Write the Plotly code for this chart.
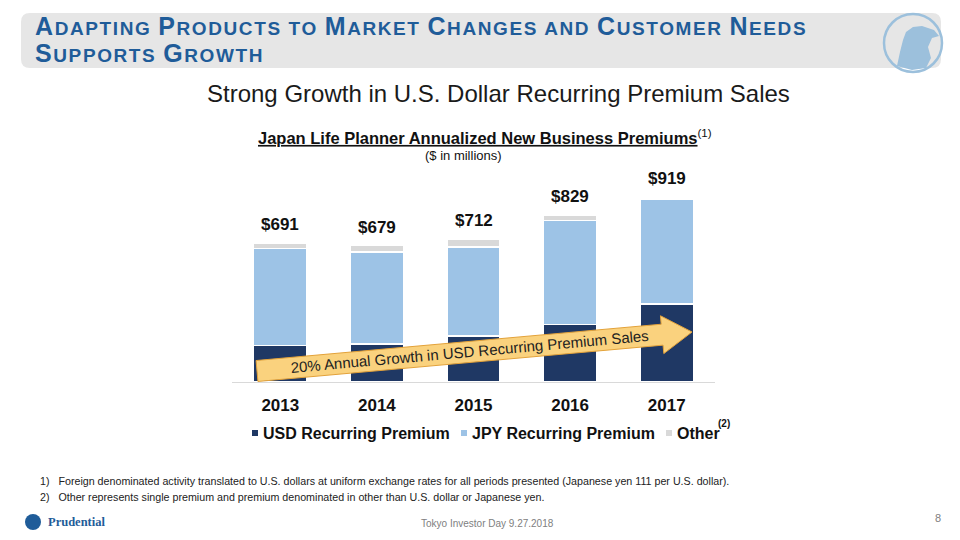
import math
import plotly.graph_objects as go

# data ($ in millions)
years = [2013, 2014, 2015, 2016, 2017]
usd_recurring = [181, 188, 230, 285, 388]
jpy_recurring = [483, 458, 441, 518, 522]
other = [27, 33, 41, 26, 9]
totals = [691, 679, 712, 829, 919]
series_names = ["USD Recurring Premium", "JPY Recurring Premium", "Other"]

W, H = 960, 540
FONT = "Liberation Sans, Arial, sans-serif"
NAVY = "#1F3864"
LIGHT = "#9DC3E6"
GREY = "#D9D9D9"
TITLE_BLUE = "#1F5C99"
LOGO_BLUE = "#9CC0DC"
colors = [NAVY, LIGHT, GREY]


def px(x):
    return x / W


def py(y):
    return 1 - y / H


def path_from_pixels(points, close=True):
    s = "M " + " L ".join(f"{px(x):.5f},{py(y):.5f}" for x, y in points)
    return s + (" Z" if close else "")


def rounded_rect(x0, y0, x1, y1, r):
    def p(x, y):
        return f"{px(x):.5f},{py(y):.5f}"
    return (f"M {p(x0 + r, y0)} L {p(x1 - r, y0)} Q {p(x1, y0)} {p(x1, y0 + r)} "
            f"L {p(x1, y1 - r)} Q {p(x1, y1)} {p(x1 - r, y1)} "
            f"L {p(x0 + r, y1)} Q {p(x0, y1)} {p(x0, y1 - r)} "
            f"L {p(x0, y0 + r)} Q {p(x0, y0)} {p(x0 + r, y0)} Z")


def small_caps(text, spacing=0):
    # capital letters stay big, lower case letters become small capitals
    ls = f"letter-spacing:{spacing}px;" if spacing else ""
    out, run, run_small = [], "", None
    for ch in text:
        small = ch.islower()
        if ch == " ":
            small = run_small
        if run and small != run_small:
            size = "font-size:19px;" if run_small else ""
            out.append(f"<span style='{size}{ls}'>{run.upper()}</span>")
            run = ""
        run += ch
        run_small = small
    size = "font-size:19px;" if run_small else ""
    out.append(f"<span style='{size}{ls}'>{run.upper()}</span>")
    return "".join(out)


fig = go.Figure()
for name, vals, col in zip(series_names, [usd_recurring, jpy_recurring, other], colors):
    fig.add_trace(go.Bar(x=years, y=vals, name=name,
                         marker=dict(color=col, line=dict(color="white", width=1.5))))

annotations = []
for yr, t in zip(years, totals):
    annotations.append(dict(x=yr, y=t, xref="x", yref="y", text=f"<b>${t}</b>",
                            showarrow=False, yanchor="bottom", yshift=7,
                            font=dict(size=17, color="#111", family=FONT)))

# header band, logo and texts
shapes = [
    dict(type="path", xref="paper", yref="paper", path=rounded_rect(21, 13, 941, 68, 9),
         fillcolor="#E6E6E6", line=dict(width=0), layer="below"),
    dict(type="circle", xref="paper", yref="paper", x0=px(884), x1=px(942), y0=py(72), y1=py(14),
         line=dict(color=LOGO_BLUE, width=2.5)),
    dict(type="path", xref="paper", yref="paper",
         path=path_from_pixels([(897, 66), (900, 52), (903, 40), (906, 32), (913, 27), (922, 26),
                                (934, 30), (939, 36), (932, 38), (928, 47), (931, 58), (926, 68),
                                (912, 70)]),
         fillcolor=LOGO_BLUE, line=dict(width=0)),
    dict(type="circle", xref="paper", yref="paper", x0=px(25), x1=px(41), y0=py(530), y1=py(514),
         fillcolor=TITLE_BLUE, line=dict(width=0)),
]

# legend drawn by hand to match the slide's small square keys
legend_x = [252, 461, 666]
for lx, name, col in zip(legend_x, series_names, colors):
    shapes.append(dict(type="rect", xref="paper", yref="paper", x0=px(lx), x1=px(lx + 6),
                       y0=py(436), y1=py(430), fillcolor=col, line=dict(width=0)))
    annotations.append(dict(x=px(lx + 9), y=py(433), xref="paper", yref="paper",
                            text=f"<b>{name}</b>", showarrow=False, xanchor="left",
                            yanchor="middle", font=dict(size=16, color="#111", family=FONT)))

# growth arrow
sx, sy = 257, 371
ex, ey = 692, 332
ang = math.atan2(sy - ey, ex - sx)
L = math.hypot(ex - sx, ey - sy)
ux, uy = math.cos(ang), -math.sin(ang)
nx, ny = math.sin(ang), math.cos(ang)
w, hw, hl = 10.5, 19, 30
frame = [(0, -w), (L - hl, -w), (L - hl, -hw), (L, 0), (L - hl, hw), (L - hl, w), (0, w)]
arrow_pts = [(sx + t * ux + o * nx, sy + t * uy + o * ny) for t, o in frame]
shapes.append(dict(type="path", xref="paper", yref="paper", path=path_from_pixels(arrow_pts),
                   fillcolor="#FAD27E", line=dict(color="#E3A23A", width=1)))
mid_t = 213
annotations.append(dict(x=px(sx + mid_t * ux), y=py(sy + mid_t * uy), xref="paper", yref="paper",
                        text="20% Annual Growth in USD Recurring Premium Sales",
                        textangle=-math.degrees(ang), showarrow=False,
                        font=dict(size=15, color="#222", family=FONT)))

title_l1 = small_caps("Adapting Products to Market Changes and Customer Needs", spacing=1.6)
title_l2 = small_caps("Supports Growth", spacing=1.6)
for yy, t in [(26, title_l1), (53, title_l2)]:
    annotations.append(dict(x=px(33), y=py(yy), xref="paper", yref="paper", text=f"<b>{t}</b>",
                            showarrow=False, xanchor="left", yanchor="middle",
                            font=dict(size=25, color=TITLE_BLUE, family=FONT)))

texts = [
    (498, 93, "Strong Growth in U.S. Dollar Recurring Premium Sales", 24, "#1a1a1a", "center"),
    (485, 137, "<b><u>Japan Life Planner Annualized New Business Premiums</u></b><sup>(1)</sup>",
     16.5, "#111", "center"),
    (463, 156, "($ in millions)", 13, "#111", "center"),
    (724, 423, "<b>(2)</b>", 10, "#111", "center"),
    (38, 481, "1)   Foreign denominated activity translated to U.S. dollars at uniform exchange rates "
              "for all periods presented (Japanese yen 111 per U.S. dollar).", 10.7, "#222", "left"),
    (38, 497, "2)   Other represents single premium and premium denominated in other than "
              "U.S. dollar or Japanese yen.", 10.7, "#222", "left"),
    (487, 523, "Tokyo Investor Day 9.27.2018", 10, "#808080", "center"),
    (938, 518, "8", 11, "#808080", "center"),
]
for x, y, t, s, c, anchor in texts:
    annotations.append(dict(x=px(x), y=py(y), xref="paper", yref="paper", text=t,
                            showarrow=False, xanchor=anchor, yanchor="middle",
                            font=dict(size=s, color=c, family=FONT)))
annotations.append(dict(x=px(46), y=py(522), xref="paper", yref="paper", text="<b>Prudential</b>",
                        showarrow=False, xanchor="left", yanchor="middle",
                        font=dict(size=12.5, color=TITLE_BLUE, family="Liberation Serif, serif")))

fig.update_layout(
    width=W, height=H, margin=dict(l=0, r=0, t=0, b=0),
    paper_bgcolor="white", plot_bgcolor="white",
    barmode="stack", bargap=0.45, showlegend=False,
    font=dict(family=FONT, color="#111"),
    xaxis=dict(type="linear", range=[years[0] - 0.5, years[-1] + 0.5], tickvals=years,
               ticktext=[f"<b>{y}</b>" for y in years],
               domain=[px(232), px(715)], showline=True, linecolor="#D9D9D9",
               linewidth=1, ticks="outside", ticklen=8, tickcolor="rgba(0,0,0,0)",
               showgrid=False, zeroline=False,
               tickfont=dict(size=17, color="#111", family=FONT)),
    yaxis=dict(domain=[py(382), py(181)], range=[0, 1000], visible=False),
    shapes=shapes, annotations=annotations,
)

fig.write_html("out.html", config={"displayModeBar": False},
               post_script="document.body.style.margin='0';")
